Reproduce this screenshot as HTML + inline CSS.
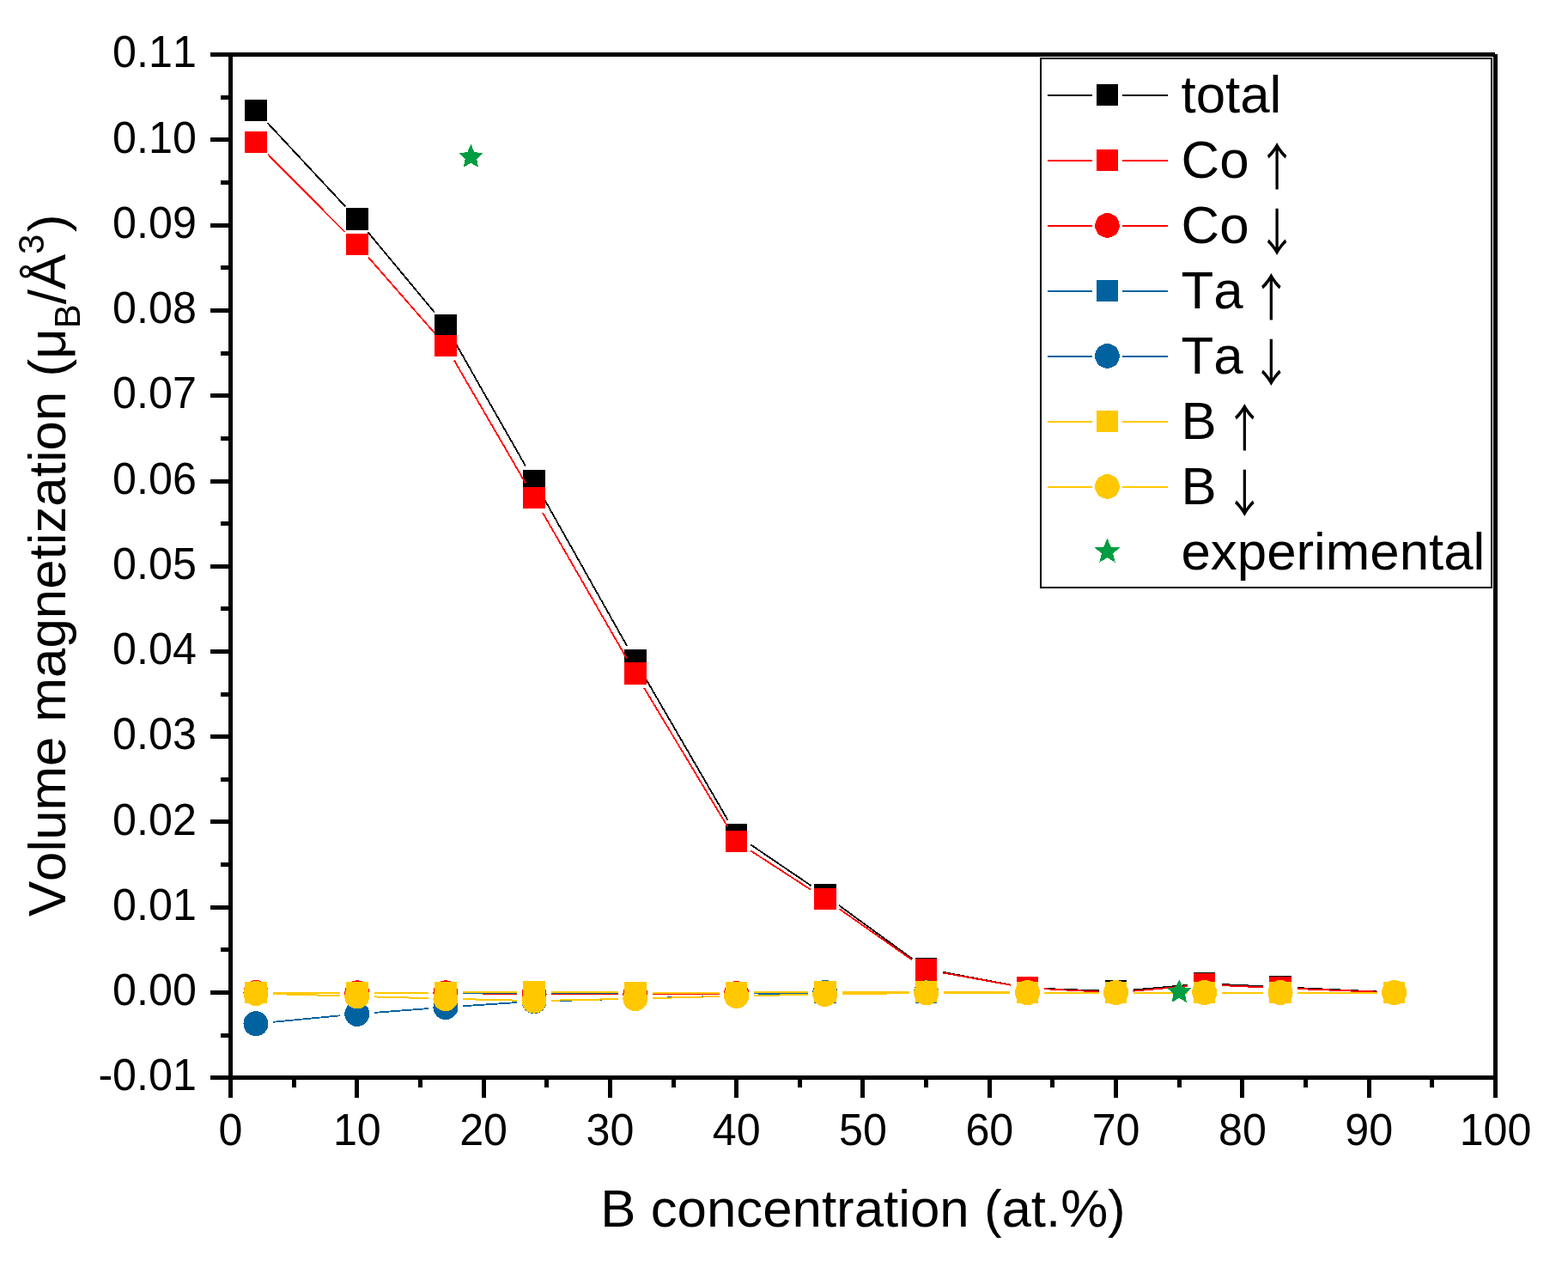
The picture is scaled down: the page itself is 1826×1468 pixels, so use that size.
<!DOCTYPE html>
<html><head><meta charset="utf-8"><title>Volume magnetization vs B concentration</title>
<style>html,body{margin:0;padding:0;background:#fff;}svg{display:block;} text{font-kerning:none;font-feature-settings:"kern" 0;}</style>
</head><body>
<svg width="1826" height="1468" viewBox="0 0 1826 1468" font-family="'Liberation Sans', Arial, sans-serif" shape-rendering="crispEdges">
<rect x="0" y="0" width="1826" height="1468" fill="#ffffff"/>
<g id="series">
<path d="M311.59 143.10L402.17 240.37" stroke="#000000" stroke-width="1.85" fill="none"/>
<path d="M428.58 270.39L506.13 363.78" stroke="#000000" stroke-width="1.85" fill="none"/>
<path d="M528.81 396.54L612.12 542.72" stroke="#000000" stroke-width="1.85" fill="none"/>
<path d="M631.84 577.52L730.04 751.79" stroke="#000000" stroke-width="1.85" fill="none"/>
<path d="M749.91 786.51L847.65 954.79" stroke="#000000" stroke-width="1.85" fill="none"/>
<path d="M874.24 983.33L944.27 1030.92" stroke="#000000" stroke-width="1.85" fill="none"/>
<path d="M976.97 1053.94L1062.49 1116.32" stroke="#000000" stroke-width="1.85" fill="none"/>
<path d="M1098.31 1131.80L1176.83 1146.55" stroke="#000000" stroke-width="1.85" fill="none"/>
<path d="M1216.48 1151.01L1279.61 1153.44" stroke="#000000" stroke-width="2.00" fill="none"/>
<path d="M1319.52 1152.46L1382.79 1146.92" stroke="#000000" stroke-width="1.85" fill="none"/>
<path d="M1422.69 1146.08L1471.11 1148.25" stroke="#000000" stroke-width="2.00" fill="none"/>
<path d="M1511.07 1150.11L1603.68 1154.54" stroke="#000000" stroke-width="2.00" fill="none"/>
<rect x="285.21" y="115.71" width="25.5" height="25.5" fill="#000000" shape-rendering="crispEdges"/>
<rect x="403.05" y="242.25" width="25.5" height="25.5" fill="#000000" shape-rendering="crispEdges"/>
<rect x="506.16" y="366.42" width="25.5" height="25.5" fill="#000000" shape-rendering="crispEdges"/>
<rect x="609.27" y="547.35" width="25.5" height="25.5" fill="#000000" shape-rendering="crispEdges"/>
<rect x="727.11" y="756.47" width="25.5" height="25.5" fill="#000000" shape-rendering="crispEdges"/>
<rect x="844.95" y="959.34" width="25.5" height="25.5" fill="#000000" shape-rendering="crispEdges"/>
<rect x="948.06" y="1029.41" width="25.5" height="25.5" fill="#000000" shape-rendering="crispEdges"/>
<rect x="1065.90" y="1115.36" width="25.5" height="25.5" fill="#000000" shape-rendering="crispEdges"/>
<rect x="1183.74" y="1137.49" width="25.5" height="25.5" fill="#000000" shape-rendering="crispEdges"/>
<rect x="1286.85" y="1141.46" width="25.5" height="25.5" fill="#000000" shape-rendering="crispEdges"/>
<rect x="1389.96" y="1132.43" width="25.5" height="25.5" fill="#000000" shape-rendering="crispEdges"/>
<rect x="1478.34" y="1136.40" width="25.5" height="25.5" fill="#000000" shape-rendering="crispEdges"/>
<rect x="1610.91" y="1142.75" width="25.5" height="25.5" fill="#000000" shape-rendering="crispEdges"/>
<path d="M312.03 179.69L401.73 270.27" stroke="#FF0000" stroke-width="1.85" fill="none"/>
<path d="M428.97 299.54L505.74 387.34" stroke="#FF0000" stroke-width="1.85" fill="none"/>
<path d="M528.97 419.68L611.96 562.36" stroke="#FF0000" stroke-width="1.85" fill="none"/>
<path d="M632.02 596.97L729.86 766.49" stroke="#FF0000" stroke-width="1.85" fill="none"/>
<path d="M750.17 800.95L847.39 962.49" stroke="#FF0000" stroke-width="1.85" fill="none"/>
<path d="M874.48 990.51L944.03 1035.64" stroke="#FF0000" stroke-width="1.85" fill="none"/>
<path d="M977.20 1057.99L1062.26 1117.53" stroke="#FF0000" stroke-width="1.85" fill="none"/>
<path d="M1098.33 1132.55L1176.81 1146.69" stroke="#FF0000" stroke-width="1.85" fill="none"/>
<path d="M1216.46 1151.26L1279.63 1154.48" stroke="#FF0000" stroke-width="1.85" fill="none"/>
<path d="M1319.52 1153.70L1382.79 1147.97" stroke="#FF0000" stroke-width="1.85" fill="none"/>
<path d="M1422.69 1147.09L1471.11 1149.32" stroke="#FF0000" stroke-width="2.00" fill="none"/>
<path d="M1511.07 1151.03L1603.68 1154.71" stroke="#FF0000" stroke-width="2.00" fill="none"/>
<rect x="285.21" y="152.73" width="25.5" height="25.5" fill="#FF0000" shape-rendering="crispEdges"/>
<rect x="403.05" y="271.73" width="25.5" height="25.5" fill="#FF0000" shape-rendering="crispEdges"/>
<rect x="506.16" y="389.64" width="25.5" height="25.5" fill="#FF0000" shape-rendering="crispEdges"/>
<rect x="609.27" y="566.90" width="25.5" height="25.5" fill="#FF0000" shape-rendering="crispEdges"/>
<rect x="727.11" y="771.06" width="25.5" height="25.5" fill="#FF0000" shape-rendering="crispEdges"/>
<rect x="844.95" y="966.88" width="25.5" height="25.5" fill="#FF0000" shape-rendering="crispEdges"/>
<rect x="948.06" y="1033.77" width="25.5" height="25.5" fill="#FF0000" shape-rendering="crispEdges"/>
<rect x="1065.90" y="1116.25" width="25.5" height="25.5" fill="#FF0000" shape-rendering="crispEdges"/>
<rect x="1183.74" y="1137.49" width="25.5" height="25.5" fill="#FF0000" shape-rendering="crispEdges"/>
<rect x="1286.85" y="1142.75" width="25.5" height="25.5" fill="#FF0000" shape-rendering="crispEdges"/>
<rect x="1389.96" y="1133.42" width="25.5" height="25.5" fill="#FF0000" shape-rendering="crispEdges"/>
<rect x="1478.34" y="1137.49" width="25.5" height="25.5" fill="#FF0000" shape-rendering="crispEdges"/>
<rect x="1610.91" y="1142.75" width="25.5" height="25.5" fill="#FF0000" shape-rendering="crispEdges"/>
<path d="M317.96 1155.55L395.80 1155.75" stroke="#FF0000" stroke-width="2.00" fill="none"/>
<path d="M435.80 1155.80L498.91 1155.80" stroke="#FF0000" stroke-width="2.00" fill="none"/>
<path d="M538.91 1156.12L602.02 1157.16" stroke="#FF0000" stroke-width="2.00" fill="none"/>
<path d="M642.02 1157.49L719.86 1157.49" stroke="#FF0000" stroke-width="2.00" fill="none"/>
<path d="M759.86 1157.32L837.70 1156.66" stroke="#FF0000" stroke-width="2.00" fill="none"/>
<path d="M877.70 1156.49L940.81 1156.49" stroke="#FF0000" stroke-width="2.00" fill="none"/>
<path d="M980.81 1156.32L1058.65 1155.67" stroke="#FF0000" stroke-width="2.00" fill="none"/>
<path d="M1098.65 1155.50L1176.49 1155.50" stroke="#FF0000" stroke-width="2.00" fill="none"/>
<path d="M1216.49 1155.50L1279.60 1155.50" stroke="#FF0000" stroke-width="2.00" fill="none"/>
<path d="M1319.60 1155.50L1382.71 1155.50" stroke="#FF0000" stroke-width="2.00" fill="none"/>
<path d="M1422.71 1155.50L1471.09 1155.50" stroke="#FF0000" stroke-width="2.00" fill="none"/>
<path d="M1511.09 1155.50L1603.66 1155.50" stroke="#FF0000" stroke-width="2.00" fill="none"/>
<circle cx="297.96" cy="1155.50" r="14.5" fill="#FF0000"/>
<circle cx="415.80" cy="1155.80" r="14.5" fill="#FF0000"/>
<circle cx="518.91" cy="1155.80" r="14.5" fill="#FF0000"/>
<circle cx="622.02" cy="1157.49" r="14.5" fill="#FF0000"/>
<circle cx="739.86" cy="1157.49" r="14.5" fill="#FF0000"/>
<circle cx="857.70" cy="1156.49" r="14.5" fill="#FF0000"/>
<circle cx="960.81" cy="1156.49" r="14.5" fill="#FF0000"/>
<circle cx="1078.65" cy="1155.50" r="14.5" fill="#FF0000"/>
<circle cx="1196.49" cy="1155.50" r="14.5" fill="#FF0000"/>
<circle cx="1299.60" cy="1155.50" r="14.5" fill="#FF0000"/>
<circle cx="1402.71" cy="1155.50" r="14.5" fill="#FF0000"/>
<circle cx="1491.09" cy="1155.50" r="14.5" fill="#FF0000"/>
<circle cx="1623.66" cy="1155.50" r="14.5" fill="#FF0000"/>
<path d="M317.96 1155.50L395.80 1155.50" stroke="#0063A0" stroke-width="2.00" fill="none"/>
<path d="M435.80 1155.50L498.91 1155.50" stroke="#0063A0" stroke-width="2.00" fill="none"/>
<path d="M538.91 1155.69L602.02 1156.30" stroke="#0063A0" stroke-width="2.00" fill="none"/>
<path d="M642.02 1156.32L719.86 1155.67" stroke="#0063A0" stroke-width="2.00" fill="none"/>
<path d="M759.86 1155.50L837.70 1155.50" stroke="#0063A0" stroke-width="2.00" fill="none"/>
<path d="M877.70 1155.50L940.81 1155.50" stroke="#0063A0" stroke-width="2.00" fill="none"/>
<path d="M980.81 1155.50L1058.65 1155.50" stroke="#0063A0" stroke-width="2.00" fill="none"/>
<path d="M1098.65 1155.50L1176.49 1155.50" stroke="#0063A0" stroke-width="2.00" fill="none"/>
<path d="M1216.49 1155.50L1279.60 1155.50" stroke="#0063A0" stroke-width="2.00" fill="none"/>
<path d="M1319.60 1155.50L1382.71 1155.50" stroke="#0063A0" stroke-width="2.00" fill="none"/>
<path d="M1422.71 1155.50L1471.09 1155.50" stroke="#0063A0" stroke-width="2.00" fill="none"/>
<path d="M1511.09 1155.50L1603.66 1155.50" stroke="#0063A0" stroke-width="2.00" fill="none"/>
<rect x="285.21" y="1142.75" width="25.5" height="25.5" fill="#0063A0" shape-rendering="crispEdges"/>
<rect x="403.05" y="1142.75" width="25.5" height="25.5" fill="#0063A0" shape-rendering="crispEdges"/>
<rect x="506.16" y="1142.75" width="25.5" height="25.5" fill="#0063A0" shape-rendering="crispEdges"/>
<rect x="609.27" y="1143.74" width="25.5" height="25.5" fill="#0063A0" shape-rendering="crispEdges"/>
<rect x="727.11" y="1142.75" width="25.5" height="25.5" fill="#0063A0" shape-rendering="crispEdges"/>
<rect x="844.95" y="1142.75" width="25.5" height="25.5" fill="#0063A0" shape-rendering="crispEdges"/>
<rect x="948.06" y="1142.75" width="25.5" height="25.5" fill="#0063A0" shape-rendering="crispEdges"/>
<rect x="1065.90" y="1142.75" width="25.5" height="25.5" fill="#0063A0" shape-rendering="crispEdges"/>
<rect x="1183.74" y="1142.75" width="25.5" height="25.5" fill="#0063A0" shape-rendering="crispEdges"/>
<rect x="1286.85" y="1142.75" width="25.5" height="25.5" fill="#0063A0" shape-rendering="crispEdges"/>
<rect x="1389.96" y="1142.75" width="25.5" height="25.5" fill="#0063A0" shape-rendering="crispEdges"/>
<rect x="1478.34" y="1142.75" width="25.5" height="25.5" fill="#0063A0" shape-rendering="crispEdges"/>
<rect x="1610.91" y="1142.75" width="25.5" height="25.5" fill="#0063A0" shape-rendering="crispEdges"/>
<path d="M317.87 1189.81L395.89 1182.32" stroke="#0063A0" stroke-width="1.85" fill="none"/>
<path d="M435.74 1178.90L498.97 1174.09" stroke="#0063A0" stroke-width="1.85" fill="none"/>
<path d="M538.87 1171.25L602.06 1167.05" stroke="#0063A0" stroke-width="1.85" fill="none"/>
<path d="M642.01 1165.17L719.87 1163.00" stroke="#0063A0" stroke-width="2.00" fill="none"/>
<path d="M759.85 1161.94L837.71 1159.98" stroke="#0063A0" stroke-width="2.00" fill="none"/>
<path d="M877.69 1158.70L940.82 1156.27" stroke="#0063A0" stroke-width="2.00" fill="none"/>
<path d="M980.81 1155.50L1058.65 1155.50" stroke="#0063A0" stroke-width="2.00" fill="none"/>
<path d="M1098.65 1155.50L1176.49 1155.50" stroke="#0063A0" stroke-width="2.00" fill="none"/>
<path d="M1216.49 1155.50L1279.60 1155.50" stroke="#0063A0" stroke-width="2.00" fill="none"/>
<path d="M1319.60 1155.50L1382.71 1155.50" stroke="#0063A0" stroke-width="2.00" fill="none"/>
<path d="M1422.71 1155.50L1471.09 1155.50" stroke="#0063A0" stroke-width="2.00" fill="none"/>
<path d="M1511.09 1155.50L1603.66 1155.50" stroke="#0063A0" stroke-width="2.00" fill="none"/>
<circle cx="297.96" cy="1191.73" r="14.5" fill="#0063A0"/>
<circle cx="415.80" cy="1180.41" r="14.5" fill="#0063A0"/>
<circle cx="518.91" cy="1172.57" r="14.5" fill="#0063A0"/>
<circle cx="622.02" cy="1165.72" r="14.5" fill="#0063A0"/>
<circle cx="739.86" cy="1162.45" r="14.5" fill="#0063A0"/>
<circle cx="857.70" cy="1159.47" r="14.5" fill="#0063A0"/>
<circle cx="960.81" cy="1155.50" r="14.5" fill="#0063A0"/>
<circle cx="1078.65" cy="1155.50" r="14.5" fill="#0063A0"/>
<circle cx="1196.49" cy="1155.50" r="14.5" fill="#0063A0"/>
<circle cx="1299.60" cy="1155.50" r="14.5" fill="#0063A0"/>
<circle cx="1402.71" cy="1155.50" r="14.5" fill="#0063A0"/>
<circle cx="1491.09" cy="1155.50" r="14.5" fill="#0063A0"/>
<circle cx="1623.66" cy="1155.50" r="14.5" fill="#0063A0"/>
<path d="M317.96 1155.50L395.80 1155.50" stroke="#FFC800" stroke-width="2.00" fill="none"/>
<path d="M435.80 1155.50L498.91 1155.50" stroke="#FFC800" stroke-width="2.00" fill="none"/>
<path d="M538.91 1155.31L602.02 1154.70" stroke="#FFC800" stroke-width="2.00" fill="none"/>
<path d="M642.02 1154.68L719.86 1155.33" stroke="#FFC800" stroke-width="2.00" fill="none"/>
<path d="M759.86 1155.50L837.70 1155.50" stroke="#FFC800" stroke-width="2.00" fill="none"/>
<path d="M877.70 1155.31L940.81 1154.70" stroke="#FFC800" stroke-width="2.00" fill="none"/>
<path d="M980.81 1154.51L1058.65 1154.51" stroke="#FFC800" stroke-width="2.00" fill="none"/>
<path d="M1098.65 1154.68L1176.49 1155.33" stroke="#FFC800" stroke-width="2.00" fill="none"/>
<path d="M1216.49 1155.50L1279.60 1155.50" stroke="#FFC800" stroke-width="2.00" fill="none"/>
<path d="M1319.60 1155.50L1382.71 1155.50" stroke="#FFC800" stroke-width="2.00" fill="none"/>
<path d="M1422.71 1155.50L1471.09 1155.50" stroke="#FFC800" stroke-width="2.00" fill="none"/>
<path d="M1511.09 1155.50L1603.66 1155.50" stroke="#FFC800" stroke-width="2.00" fill="none"/>
<rect x="285.21" y="1142.75" width="25.5" height="25.5" fill="#FFC800" shape-rendering="crispEdges"/>
<rect x="403.05" y="1142.75" width="25.5" height="25.5" fill="#FFC800" shape-rendering="crispEdges"/>
<rect x="506.16" y="1142.75" width="25.5" height="25.5" fill="#FFC800" shape-rendering="crispEdges"/>
<rect x="609.27" y="1141.76" width="25.5" height="25.5" fill="#FFC800" shape-rendering="crispEdges"/>
<rect x="727.11" y="1142.75" width="25.5" height="25.5" fill="#FFC800" shape-rendering="crispEdges"/>
<rect x="844.95" y="1142.75" width="25.5" height="25.5" fill="#FFC800" shape-rendering="crispEdges"/>
<rect x="948.06" y="1141.76" width="25.5" height="25.5" fill="#FFC800" shape-rendering="crispEdges"/>
<rect x="1065.90" y="1141.76" width="25.5" height="25.5" fill="#FFC800" shape-rendering="crispEdges"/>
<rect x="1183.74" y="1142.75" width="25.5" height="25.5" fill="#FFC800" shape-rendering="crispEdges"/>
<rect x="1286.85" y="1142.75" width="25.5" height="25.5" fill="#FFC800" shape-rendering="crispEdges"/>
<rect x="1389.96" y="1142.75" width="25.5" height="25.5" fill="#FFC800" shape-rendering="crispEdges"/>
<rect x="1478.34" y="1142.75" width="25.5" height="25.5" fill="#FFC800" shape-rendering="crispEdges"/>
<rect x="1610.91" y="1142.75" width="25.5" height="25.5" fill="#FFC800" shape-rendering="crispEdges"/>
<path d="M317.95 1157.06L395.81 1159.29" stroke="#FFC800" stroke-width="2.00" fill="none"/>
<path d="M435.79 1160.41L498.92 1162.11" stroke="#FFC800" stroke-width="2.00" fill="none"/>
<path d="M538.90 1163.13L602.03 1164.65" stroke="#FFC800" stroke-width="2.00" fill="none"/>
<path d="M642.02 1164.71L719.86 1163.07" stroke="#FFC800" stroke-width="2.00" fill="none"/>
<path d="M759.85 1162.11L837.71 1160.01" stroke="#FFC800" stroke-width="2.00" fill="none"/>
<path d="M877.70 1159.09L940.81 1157.87" stroke="#FFC800" stroke-width="2.00" fill="none"/>
<path d="M980.81 1157.22L1058.65 1156.17" stroke="#FFC800" stroke-width="2.00" fill="none"/>
<path d="M1098.65 1155.86L1176.49 1155.73" stroke="#FFC800" stroke-width="2.00" fill="none"/>
<path d="M1216.49 1155.66L1279.60 1155.54" stroke="#FFC800" stroke-width="2.00" fill="none"/>
<path d="M1319.60 1155.50L1382.71 1155.50" stroke="#FFC800" stroke-width="2.00" fill="none"/>
<path d="M1422.71 1155.50L1471.09 1155.50" stroke="#FFC800" stroke-width="2.00" fill="none"/>
<path d="M1511.09 1155.50L1603.66 1155.50" stroke="#FFC800" stroke-width="2.00" fill="none"/>
<circle cx="297.96" cy="1156.49" r="14.5" fill="#FFC800"/>
<circle cx="415.80" cy="1159.87" r="14.5" fill="#FFC800"/>
<circle cx="518.91" cy="1162.65" r="14.5" fill="#FFC800"/>
<circle cx="622.02" cy="1165.13" r="14.5" fill="#FFC800"/>
<circle cx="739.86" cy="1162.65" r="14.5" fill="#FFC800"/>
<circle cx="857.70" cy="1159.47" r="14.5" fill="#FFC800"/>
<circle cx="960.81" cy="1157.49" r="14.5" fill="#FFC800"/>
<circle cx="1078.65" cy="1155.90" r="14.5" fill="#FFC800"/>
<circle cx="1196.49" cy="1155.70" r="14.5" fill="#FFC800"/>
<circle cx="1299.60" cy="1155.50" r="14.5" fill="#FFC800"/>
<circle cx="1402.71" cy="1155.50" r="14.5" fill="#FFC800"/>
<circle cx="1491.09" cy="1155.50" r="14.5" fill="#FFC800"/>
<circle cx="1623.66" cy="1155.50" r="14.5" fill="#FFC800"/>
<polygon points="548.37,167.90 552.48,177.14 562.54,178.20 555.03,184.96 557.13,194.85 548.37,189.80 539.61,194.85 541.71,184.96 534.20,178.20 544.26,177.14" fill="#009D42"/>
<polygon points="1373.25,1140.00 1377.36,1149.24 1387.42,1150.30 1379.91,1157.06 1382.01,1166.95 1373.25,1161.90 1364.49,1166.95 1366.59,1157.06 1359.08,1150.30 1369.14,1149.24" fill="#009D42"/>
</g>
<g id="frame" shape-rendering="crispEdges">
<rect x="266.00" y="61.00" width="5.00" height="1196.00" fill="#000000"/>
<rect x="266.00" y="1252.00" width="1478.00" height="5.00" fill="#000000"/>
<rect x="266.00" y="61.00" width="1475.00" height="5.00" fill="#000000"/>
<rect x="1739.00" y="63.00" width="5.00" height="1194.00" fill="#000000"/>
<rect x="245.00" y="1252.00" width="21.00" height="5.00" fill="#000000"/>
<rect x="245.00" y="1153.00" width="21.00" height="5.00" fill="#000000"/>
<rect x="245.00" y="1054.00" width="21.00" height="5.00" fill="#000000"/>
<rect x="245.00" y="954.00" width="21.00" height="5.00" fill="#000000"/>
<rect x="245.00" y="855.00" width="21.00" height="5.00" fill="#000000"/>
<rect x="245.00" y="756.00" width="21.00" height="5.00" fill="#000000"/>
<rect x="245.00" y="657.00" width="21.00" height="5.00" fill="#000000"/>
<rect x="245.00" y="558.00" width="21.00" height="5.00" fill="#000000"/>
<rect x="245.00" y="458.00" width="21.00" height="5.00" fill="#000000"/>
<rect x="245.00" y="359.00" width="21.00" height="5.00" fill="#000000"/>
<rect x="245.00" y="260.00" width="21.00" height="5.00" fill="#000000"/>
<rect x="245.00" y="160.00" width="21.00" height="5.00" fill="#000000"/>
<rect x="245.00" y="61.00" width="21.00" height="5.00" fill="#000000"/>
<rect x="257.00" y="1203.00" width="9.00" height="5.00" fill="#000000"/>
<rect x="257.00" y="1103.00" width="9.00" height="5.00" fill="#000000"/>
<rect x="257.00" y="1004.00" width="9.00" height="5.00" fill="#000000"/>
<rect x="257.00" y="905.00" width="9.00" height="5.00" fill="#000000"/>
<rect x="257.00" y="806.00" width="9.00" height="5.00" fill="#000000"/>
<rect x="257.00" y="706.00" width="9.00" height="5.00" fill="#000000"/>
<rect x="257.00" y="607.00" width="9.00" height="5.00" fill="#000000"/>
<rect x="257.00" y="508.00" width="9.00" height="5.00" fill="#000000"/>
<rect x="257.00" y="409.00" width="9.00" height="5.00" fill="#000000"/>
<rect x="257.00" y="309.00" width="9.00" height="5.00" fill="#000000"/>
<rect x="257.00" y="210.00" width="9.00" height="5.00" fill="#000000"/>
<rect x="257.00" y="111.00" width="9.00" height="5.00" fill="#000000"/>
<rect x="266.00" y="1257.00" width="5.00" height="21.00" fill="#000000"/>
<rect x="413.00" y="1257.00" width="5.00" height="21.00" fill="#000000"/>
<rect x="561.00" y="1257.00" width="5.00" height="21.00" fill="#000000"/>
<rect x="708.00" y="1257.00" width="5.00" height="21.00" fill="#000000"/>
<rect x="855.00" y="1257.00" width="5.00" height="21.00" fill="#000000"/>
<rect x="1002.00" y="1257.00" width="5.00" height="21.00" fill="#000000"/>
<rect x="1150.00" y="1257.00" width="5.00" height="21.00" fill="#000000"/>
<rect x="1297.00" y="1257.00" width="5.00" height="21.00" fill="#000000"/>
<rect x="1444.00" y="1257.00" width="5.00" height="21.00" fill="#000000"/>
<rect x="1592.00" y="1257.00" width="5.00" height="21.00" fill="#000000"/>
<rect x="1739.00" y="1257.00" width="5.00" height="21.00" fill="#000000"/>
<rect x="340.00" y="1257.00" width="5.00" height="9.00" fill="#000000"/>
<rect x="487.00" y="1257.00" width="5.00" height="9.00" fill="#000000"/>
<rect x="634.00" y="1257.00" width="5.00" height="9.00" fill="#000000"/>
<rect x="782.00" y="1257.00" width="5.00" height="9.00" fill="#000000"/>
<rect x="929.00" y="1257.00" width="5.00" height="9.00" fill="#000000"/>
<rect x="1076.00" y="1257.00" width="5.00" height="9.00" fill="#000000"/>
<rect x="1223.00" y="1257.00" width="5.00" height="9.00" fill="#000000"/>
<rect x="1371.00" y="1257.00" width="5.00" height="9.00" fill="#000000"/>
<rect x="1518.00" y="1257.00" width="5.00" height="9.00" fill="#000000"/>
<rect x="1665.00" y="1257.00" width="5.00" height="9.00" fill="#000000"/>
</g>
<g font-size="50.2" fill="#000">
<text transform="translate(228.8,1269.45) scale(1,1.04)" text-anchor="end">-0.01</text>
<text transform="translate(228.8,1170.20) scale(1,1.04)" text-anchor="end">0.00</text>
<text transform="translate(228.8,1070.95) scale(1,1.04)" text-anchor="end">0.01</text>
<text transform="translate(228.8,971.70) scale(1,1.04)" text-anchor="end">0.02</text>
<text transform="translate(228.8,872.45) scale(1,1.04)" text-anchor="end">0.03</text>
<text transform="translate(228.8,773.20) scale(1,1.04)" text-anchor="end">0.04</text>
<text transform="translate(228.8,673.95) scale(1,1.04)" text-anchor="end">0.05</text>
<text transform="translate(228.8,574.70) scale(1,1.04)" text-anchor="end">0.06</text>
<text transform="translate(228.8,475.45) scale(1,1.04)" text-anchor="end">0.07</text>
<text transform="translate(228.8,376.20) scale(1,1.04)" text-anchor="end">0.08</text>
<text transform="translate(228.8,276.95) scale(1,1.04)" text-anchor="end">0.09</text>
<text transform="translate(228.8,177.70) scale(1,1.04)" text-anchor="end">0.10</text>
<text transform="translate(228.8,78.45) scale(1,1.04)" text-anchor="end">0.11</text>
<text transform="translate(268.50,1333.3) scale(1,1.04)" text-anchor="middle">0</text>
<text transform="translate(415.80,1333.3) scale(1,1.04)" text-anchor="middle">10</text>
<text transform="translate(563.10,1333.3) scale(1,1.04)" text-anchor="middle">20</text>
<text transform="translate(710.40,1333.3) scale(1,1.04)" text-anchor="middle">30</text>
<text transform="translate(857.70,1333.3) scale(1,1.04)" text-anchor="middle">40</text>
<text transform="translate(1005.00,1333.3) scale(1,1.04)" text-anchor="middle">50</text>
<text transform="translate(1152.30,1333.3) scale(1,1.04)" text-anchor="middle">60</text>
<text transform="translate(1299.60,1333.3) scale(1,1.04)" text-anchor="middle">70</text>
<text transform="translate(1446.90,1333.3) scale(1,1.04)" text-anchor="middle">80</text>
<text transform="translate(1594.20,1333.3) scale(1,1.04)" text-anchor="middle">90</text>
<text transform="translate(1741.50,1333.3) scale(1,1.04)" text-anchor="middle">100</text>
</g>
<text transform="translate(1005,1427.6) scale(1,1.0)" font-size="61.8" text-anchor="middle">B concentration (at.%)</text>
<text transform="translate(76,1067.1) rotate(-90) scale(1,1.0)" x="0" y="0" font-size="61.8">Volume magnetization (μ<tspan font-size="42" dy="17.2">B</tspan><tspan dy="-17.2">/Å</tspan><tspan font-size="42" dy="-25">3</tspan><tspan dy="25" dx="2.5">)</tspan></text>
<g id="legend">
<rect x="1212" y="68" width="525" height="616" fill="#fff" stroke="#000" stroke-width="2" shape-rendering="crispEdges"/>
<rect x="1220" y="110.0" width="52" height="2" fill="#000000" shape-rendering="crispEdges"/>
<rect x="1307" y="110.0" width="53" height="2" fill="#000000" shape-rendering="crispEdges"/>
<rect x="1277" y="98.0" width="25" height="25" fill="#000000" shape-rendering="crispEdges"/>
<text transform="translate(1375.5,131.3) scale(1,1.0)" font-size="61.8">total</text>
<rect x="1220" y="186.0" width="52" height="2" fill="#FF0000" shape-rendering="crispEdges"/>
<rect x="1307" y="186.0" width="53" height="2" fill="#FF0000" shape-rendering="crispEdges"/>
<rect x="1277" y="174.0" width="25" height="25" fill="#FF0000" shape-rendering="crispEdges"/>
<text transform="translate(1375.5,207.3) scale(1,1.0)" font-size="61.8">Co</text>
<text transform="translate(1487.12,216.4) scale(0.82,1)" font-family="'Noto Sans CJK JP', 'Liberation Sans', sans-serif" font-size="58.8" text-anchor="middle">↑</text>
<rect x="1220" y="262.0" width="52" height="2" fill="#FF0000" shape-rendering="crispEdges"/>
<rect x="1307" y="262.0" width="53" height="2" fill="#FF0000" shape-rendering="crispEdges"/>
<circle cx="1289.5" cy="262.5" r="14.3" fill="#FF0000"/>
<text transform="translate(1375.5,283.3) scale(1,1.0)" font-size="61.8">Co</text>
<text transform="translate(1487.12,292.4) scale(0.82,1)" font-family="'Noto Sans CJK JP', 'Liberation Sans', sans-serif" font-size="58.8" text-anchor="middle">↓</text>
<rect x="1220" y="338.0" width="52" height="2" fill="#0063A0" shape-rendering="crispEdges"/>
<rect x="1307" y="338.0" width="53" height="2" fill="#0063A0" shape-rendering="crispEdges"/>
<rect x="1277" y="326.0" width="25" height="25" fill="#0063A0" shape-rendering="crispEdges"/>
<text transform="translate(1375.5,359.3) scale(1,1.0)" font-size="61.8">Ta</text>
<text transform="translate(1480.24,368.4) scale(0.82,1)" font-family="'Noto Sans CJK JP', 'Liberation Sans', sans-serif" font-size="58.8" text-anchor="middle">↑</text>
<rect x="1220" y="414.0" width="52" height="2" fill="#0063A0" shape-rendering="crispEdges"/>
<rect x="1307" y="414.0" width="53" height="2" fill="#0063A0" shape-rendering="crispEdges"/>
<circle cx="1289.5" cy="414.5" r="14.3" fill="#0063A0"/>
<text transform="translate(1375.5,435.3) scale(1,1.0)" font-size="61.8">Ta</text>
<text transform="translate(1480.24,444.4) scale(0.82,1)" font-family="'Noto Sans CJK JP', 'Liberation Sans', sans-serif" font-size="58.8" text-anchor="middle">↓</text>
<rect x="1220" y="490.0" width="52" height="2" fill="#FFC800" shape-rendering="crispEdges"/>
<rect x="1307" y="490.0" width="53" height="2" fill="#FFC800" shape-rendering="crispEdges"/>
<rect x="1277" y="478.0" width="25" height="25" fill="#FFC800" shape-rendering="crispEdges"/>
<text transform="translate(1375.5,511.3) scale(1,1.0)" font-size="61.8">B</text>
<text transform="translate(1449.34,520.4) scale(0.82,1)" font-family="'Noto Sans CJK JP', 'Liberation Sans', sans-serif" font-size="58.8" text-anchor="middle">↑</text>
<rect x="1220" y="566.0" width="52" height="2" fill="#FFC800" shape-rendering="crispEdges"/>
<rect x="1307" y="566.0" width="53" height="2" fill="#FFC800" shape-rendering="crispEdges"/>
<circle cx="1289.5" cy="566.5" r="14.3" fill="#FFC800"/>
<text transform="translate(1375.5,587.3) scale(1,1.0)" font-size="61.8">B</text>
<text transform="translate(1449.34,596.4) scale(0.82,1)" font-family="'Noto Sans CJK JP', 'Liberation Sans', sans-serif" font-size="58.8" text-anchor="middle">↓</text>
<polygon points="1289.50,626.80 1293.61,636.54 1304.15,637.44 1296.16,644.36 1298.55,654.66 1289.50,649.20 1280.45,654.66 1282.84,644.36 1274.85,637.44 1285.39,636.54" fill="#009D42"/>
<text transform="translate(1375.5,663.3) scale(1,1.0)" font-size="61.8">experimental</text>
</g>
</svg>
</body></html>
